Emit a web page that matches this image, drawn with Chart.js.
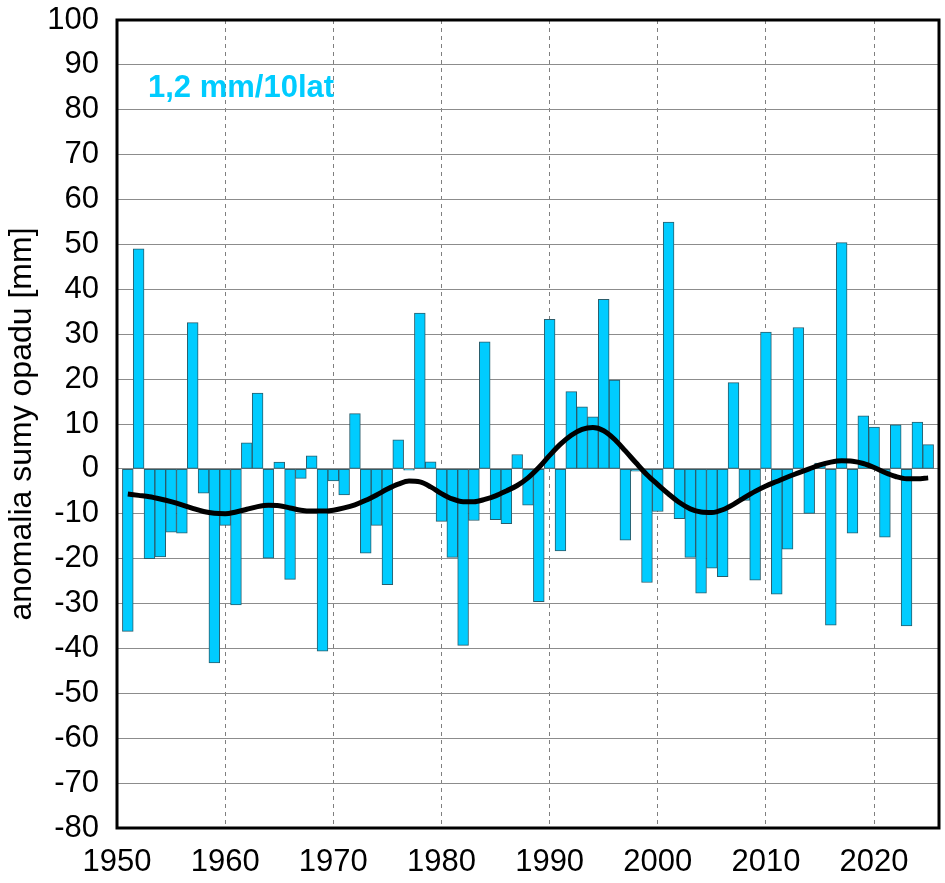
<!DOCTYPE html>
<html>
<head>
<meta charset="utf-8">
<script src="https://cdn.jsdelivr.net/npm/chart.js@4.4.1/dist/chart.umd.min.js"></script>
<style>
html,body{margin:0;padding:0;background:#fff;}
#wrap{width:945px;height:883px;position:relative;}
</style>
</head>
<body>
<div id="wrap"><canvas id="c"></canvas></div>
<script>
const years = [1951,1952,1953,1954,1955,1956,1957,1958,1959,1960,
  1961,1962,1963,1964,1965,1966,1967,1968,1969,1970,
  1971,1972,1973,1974,1975,1976,1977,1978,1979,1980,
  1981,1982,1983,1984,1985,1986,1987,1988,1989,1990,
  1991,1992,1993,1994,1995,1996,1997,1998,1999,2000,
  2001,2002,2003,2004,2005,2006,2007,2008,2009,2010,
  2011,2012,2013,2014,2015,2016,2017,2018,2019,2020,
  2021,2022,2023,2024,2025];

const anomaly = [-36.2,49.0,-20.0,-19.6,-14.1,-14.3,32.6,-5.4,-43.2,-12.6,
  -30.3,5.8,16.9,-19.9,1.5,-24.6,-2.1,2.9,-40.6,-2.7,
  -5.8,12.3,-18.8,-12.6,-25.8,6.5,-0.3,34.7,1.6,-11.7,
  -19.7,-39.3,-11.5,28.3,-11.3,-12.2,3.2,-8.1,-29.6,33.3,
  -18.3,17.2,13.8,11.6,37.8,19.8,-15.9,-0.5,-25.3,-9.5,
  55.0,-11.1,-19.7,-27.7,-22.1,-24.0,19.2,-7.0,-24.8,30.5,
  -27.9,-17.9,31.5,-9.9,1.3,-34.8,50.4,-14.3,11.8,9.3,
  -15.2,9.8,-35.0,10.4,5.4];

const smooth = [-5.6,-5.9,-6.2,-6.7,-7.3,-8.0,-8.8,-9.5,-9.9,-10.0,
  -9.6,-9.0,-8.4,-8.1,-8.2,-8.7,-9.2,-9.4,-9.4,-9.2,
  -8.7,-8.0,-7.0,-5.8,-4.5,-3.4,-2.7,-2.9,-4.0,-5.5,
  -6.7,-7.3,-7.3,-6.8,-6.0,-4.9,-3.7,-2.0,0.3,3.0,
  5.5,7.5,8.8,9.2,8.5,6.6,4.0,1.3,-1.3,-3.5,
  -5.6,-7.5,-8.9,-9.6,-9.7,-9.1,-7.9,-6.4,-5.0,-3.8,
  -2.8,-1.8,-0.9,0.0,0.9,1.5,1.8,1.7,1.2,0.3,
  -0.8,-1.7,-2.2,-2.2,-2.0];

const xTickYears = [1950,1960,1970,1980,1990,2000,2010,2020];
const xMin = 1950, xMax = 2026;
const yMin = -80, yMax = 100, yStep = 10;
const yTitle = 'anomalia sumy opadu [mm]';
const trendLabel = '1,2 mm/10lat';

const CYAN = '#00CCFF';
const FONT = "Arial, 'Liberation Sans', sans-serif";

const frame = {
  id: 'frame',
  afterDatasetsDraw(chart) {
    const {ctx, chartArea: a} = chart;
    ctx.save();
    ctx.strokeStyle = '#000';
    ctx.lineWidth = 3;
    ctx.strokeRect(a.left, a.top, a.right - a.left, a.bottom - a.top);
    ctx.fillStyle = CYAN;
    ctx.font = "bold 31px " + FONT;
    ctx.textBaseline = 'alphabetic';
    ctx.textAlign = 'left';
    ctx.fillText(trendLabel, a.left + 31, a.top + 77);
    ctx.restore();
  }
};

new Chart(document.getElementById('c'), {
  data: {
    datasets: [
      {
        type: 'line',
        data: years.map((y, i) => ({x: y, y: smooth[i]})),
        borderColor: '#000',
        borderWidth: 5,
        pointRadius: 0,
        tension: 0.4,
        cubicInterpolationMode: 'monotone',
        order: 0
      },
      {
        type: 'bar',
        data: years.map((y, i) => ({x: y, y: anomaly[i]})),
        backgroundColor: CYAN,
        borderColor: '#2b5d6b',
        borderWidth: 1,
        borderSkipped: false,
        barPercentage: 1,
        categoryPercentage: 1,
        order: 1
      }
    ]
  },
  options: {
    responsive: true,
    maintainAspectRatio: false,
    animation: false,
    devicePixelRatio: 1,
    layout: {padding: {top: 20, right: 6, left: 0, bottom: 0}},
    plugins: {legend: {display: false}, tooltip: {enabled: false}},
    scales: {
      x: {
        type: 'linear',
        min: xMin, max: xMax,
        offset: false,
        afterBuildTicks(scale) {
          scale.ticks = xTickYears.map(v => ({value: v}));
        },
        afterFit(scale) { scale.height = 55; scale.paddingLeft = 0; scale.paddingRight = 0; },
        ticks: {color: '#000', font: {family: FONT, size: 31}, padding: 16, maxRotation: 0, autoSkip: false,
          callback: v => String(v)},
        grid: {color: '#7f7f7f', lineWidth: 1, drawTicks: false, offset: false},
        border: {display: false, dash: [4, 4]}
      },
      y: {
        min: yMin, max: yMax,
        afterFit(scale) { scale.width = 117; scale.paddingTop = 0; scale.paddingBottom = 0; },
        ticks: {stepSize: yStep, color: '#000', font: {family: FONT, size: 31}, padding: 18},
        grid: {color: '#8c8c8c', lineWidth: 1, drawTicks: false},
        border: {display: false},
        title: {display: true, text: yTitle, color: '#000', font: {family: FONT, size: 32}, padding: {top: 3, bottom: 0}}
      }
    }
  },
  plugins: [frame]
});
</script>
</body>
</html>
